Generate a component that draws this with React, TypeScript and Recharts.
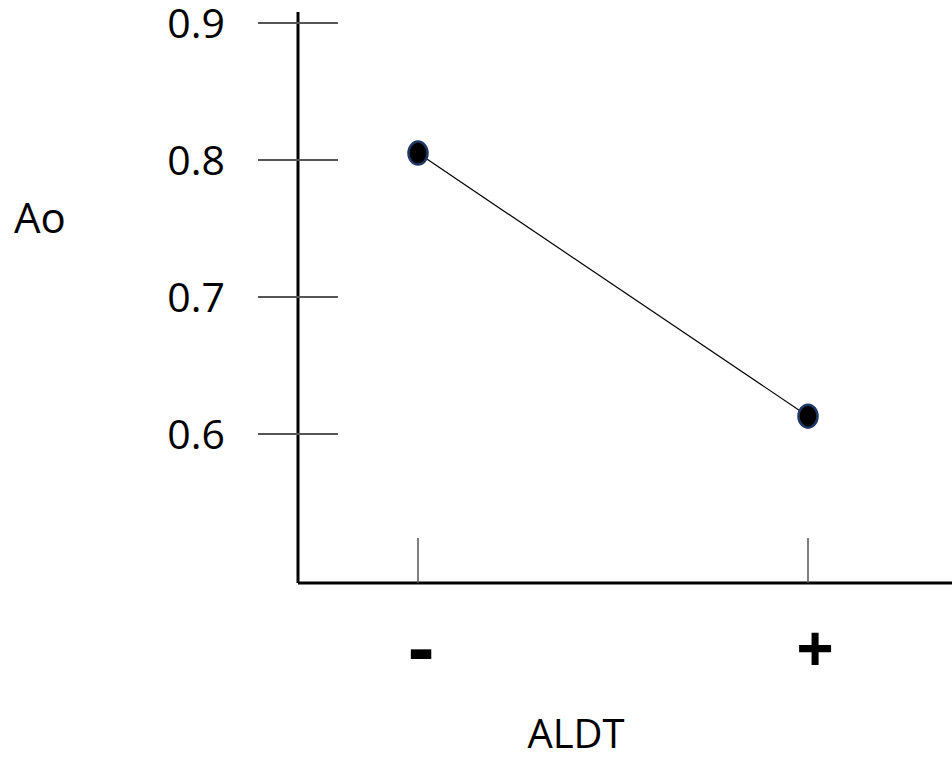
import { LineChart, Line, XAxis, YAxis } from "recharts";

const CATEGORIES = ["-", "+"];
const AO_VALUES = [0.805, 0.613];
const Y_TICKS = [0.6, 0.7, 0.8, 0.9];
const Y_DOMAIN = [0.4912, 0.908];

const data = CATEGORIES.map((c, i) => ({ aldt: c, ao: AO_VALUES[i] }));

const FONT = "'Open Sans', sans-serif";

function YTick(props: any) {
  const { x, y, payload } = props;
  return (
    <g>
      <line x1={x - 40} x2={x + 40} y1={y} y2={y} stroke="#555" strokeWidth={2} />
      <text x={x - 73} y={y + 15} textAnchor="end" fontFamily={FONT} fontSize={41} fill="#000">
        {payload.value.toFixed(1)}
      </text>
    </g>
  );
}

function XTick(props: any) {
  const { x, y, payload } = props;
  const plus = payload.value === "+";
  return (
    <g>
      <line x1={x} x2={x} y1={y - 45} y2={y} stroke="#555" strokeWidth={1.5} />
      <text
        x={x + (plus ? 7 : 3)}
        y={y + (plus ? 89 : 92)}
        textAnchor="middle"
        fontFamily={FONT}
        fontWeight={700}
        fontSize={plus ? 66 : 78}
        fill="#000"
      >
        {payload.value}
      </text>
    </g>
  );
}

function Dot(props: any) {
  const { cx, cy } = props;
  return <ellipse cx={cx} cy={cy} rx={9.5} ry={11.5} fill="#000" stroke="#203864" strokeWidth={2.5} />;
}

export default function App() {
  return (
    <div style={{ position: "absolute", left: 0, top: 0, width: 952, height: 757, background: "#fff" }}>
      <LineChart width={952} height={757} data={data} margin={{ top: 12, right: 0, bottom: 0, left: 0 }}>
        <XAxis
          dataKey="aldt"
          height={174}
          padding={{ left: 120, right: 144 }}
          axisLine={{ stroke: "#000", strokeWidth: 3 }}
          tickLine={false}
          tickSize={0}
          tickMargin={0}
          tick={<XTick />}
          label={(p: any) => (
            <text
              x={p.viewBox.x + p.viewBox.width / 2 - 49}
              y={p.viewBox.y + 165}
              textAnchor="middle"
              fontFamily={FONT}
              fontSize={40}
              fill="#000"
            >
              ALDT
            </text>
          )}
        />
        <YAxis
          type="number"
          domain={Y_DOMAIN}
          ticks={Y_TICKS}
          width={298}
          axisLine={{ stroke: "#000", strokeWidth: 3 }}
          tickLine={false}
          tickSize={0}
          tickMargin={0}
          tick={<YTick />}
          label={(p: any) => (
            <text x={p.viewBox.x + 14} y={p.viewBox.y + 221} fontFamily={FONT} fontSize={42} fill="#000">
              Ao
            </text>
          )}
        />
        <Line
          type="linear"
          dataKey="ao"
          stroke="#000"
          strokeWidth={1.2}
          dot={<Dot />}
          activeDot={false}
          isAnimationActive={false}
        />
      </LineChart>
    </div>
  );
}
